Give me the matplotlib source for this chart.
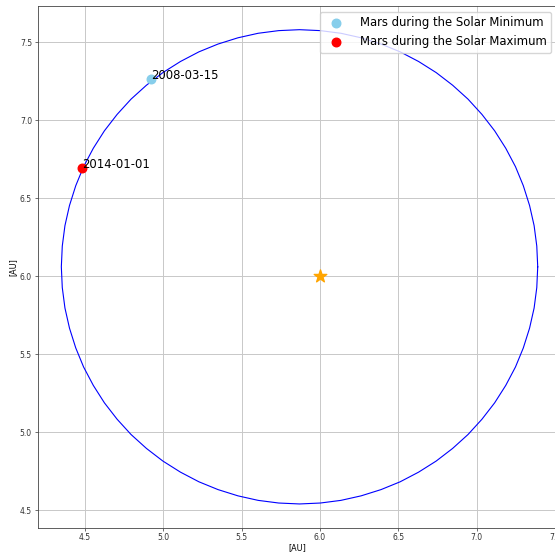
import matplotlib
matplotlib.use("Agg")
import matplotlib.pyplot as plt

# orbit of Mars [AU]
orbit_x = [7.390, 7.384, 7.367, 7.338, 7.298, 7.248, 7.186, 7.115, 7.034, 6.945,
           6.847, 6.742, 6.630, 6.512, 6.390, 6.263, 6.134, 6.003, 5.870, 5.737,
           5.606, 5.477, 5.350, 5.228, 5.110, 4.998, 4.893, 4.795, 4.706, 4.625,
           4.554, 4.492, 4.442, 4.402, 4.373, 4.356, 4.350, 4.356, 4.373, 4.402,
           4.442, 4.492, 4.554, 4.625, 4.706, 4.795, 4.893, 4.998, 5.110, 5.228,
           5.350, 5.477, 5.606, 5.737, 5.870, 6.003, 6.134, 6.263, 6.390, 6.512,
           6.630, 6.742, 6.847, 6.945, 7.034, 7.115, 7.186, 7.248, 7.298, 7.338,
           7.367, 7.384, 7.390]
orbit_y = [6.060, 6.193, 6.324, 6.453, 6.580, 6.702, 6.820, 6.932, 7.037, 7.135,
           7.224, 7.305, 7.376, 7.438, 7.488, 7.528, 7.557, 7.574, 7.580, 7.574,
           7.557, 7.528, 7.488, 7.438, 7.376, 7.305, 7.224, 7.135, 7.037, 6.932,
           6.820, 6.702, 6.580, 6.453, 6.324, 6.193, 6.060, 5.927, 5.796, 5.667,
           5.540, 5.418, 5.300, 5.188, 5.083, 4.985, 4.896, 4.815, 4.744, 4.682,
           4.632, 4.592, 4.563, 4.546, 4.540, 4.546, 4.563, 4.592, 4.632, 4.682,
           4.744, 4.815, 4.896, 4.985, 5.083, 5.188, 5.300, 5.418, 5.540, 5.667,
           5.796, 5.927, 6.060]

sun = (6.0, 6.0)

dates = ["2008-03-15", "2014-01-01"]
mars_x = [4.924, 4.484]
mars_y = [7.263, 6.692]
labels = ["Mars during the Solar Minimum", "Mars during the Solar Maximum"]
colors = ["skyblue", "red"]

fig = plt.figure(figsize=(5.55, 5.53), dpi=100)
ax = fig.add_axes([0.0676, 0.0458, 0.936, 0.9434])

ax.plot(orbit_x, orbit_y, color="blue", lw=0.8)
ax.scatter([sun[0]], [sun[1]], marker="*", color="orange", s=90, zorder=3)
for i in range(len(dates)):
    ax.scatter(mars_x[i], mars_y[i], color=colors[i], s=38, label=labels[i], zorder=4)
    ax.text(mars_x[i], mars_y[i], dates[i], fontsize=8.4, zorder=5)

ax.set_xlim(4.198, 7.513)
ax.set_ylim(4.388, 7.732)
ax.set_xlabel("[AU]", fontsize=5.8, labelpad=1)
ax.set_ylabel("[AU]", fontsize=5.8, labelpad=2)
ax.tick_params(labelsize=5.5, length=2, width=0.5, pad=2, colors="#333333")
for s in ax.spines.values():
    s.set_linewidth(0.6)
    s.set_color("#444444")
ax.grid(True, color="#c8c8c8", lw=0.7)
ax.set_axisbelow(True)
ax.legend(loc="upper right", fontsize=8.4, handletextpad=1.0,
          borderaxespad=0.5, framealpha=0.8)

fig.savefig("out.png", dpi=100)
